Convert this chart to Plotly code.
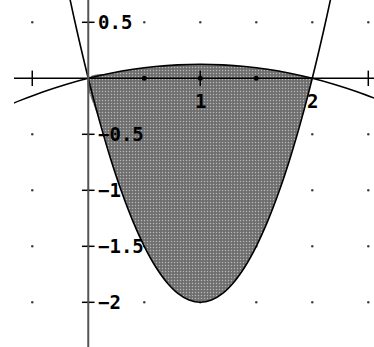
import plotly.graph_objects as go

# curve readings (x in steps of 0.1)
x_low = [-0.3, -0.2, -0.1, 0.0, 0.1, 0.2, 0.3, 0.4, 0.5, 0.6, 0.7, 0.8, 0.9, 1.0,
         1.1, 1.2, 1.3, 1.4, 1.5, 1.6, 1.7, 1.8, 1.9, 2.0, 2.1, 2.2, 2.3]
y_low = [1.38, 0.88, 0.42, 0.0, -0.38, -0.72, -1.02, -1.28, -1.5, -1.68, -1.82, -1.92, -1.98, -2.0,
         -1.98, -1.92, -1.82, -1.68, -1.5, -1.28, -1.02, -0.72, -0.38, 0.0, 0.42, 0.88, 1.38]

x_up = [-0.7, -0.6, -0.4, -0.2, 0.0, 0.2, 0.4, 0.6, 0.8, 1.0, 1.2, 1.4, 1.6, 1.8, 2.0, 2.2, 2.4, 2.6]
y_up = [-0.236, -0.195, -0.12, -0.055, 0.0, 0.045, 0.08, 0.105, 0.12, 0.125, 0.12, 0.105, 0.08, 0.045,
        0.0, -0.055, -0.12, -0.195]

grid_x = [-0.5, 0.0, 0.5, 1.0, 1.5, 2.0, 2.5]
grid_y = [0.5, -0.5, -1.0, -1.5, -2.0]
xtick_vals = [-0.5, 1.0, 2.5]
xdot_vals = [0.5, 1.0, 1.5]
ytick_vals = [0.5, -0.5, -1.0, -1.5, -2.0]
ytick_text = ["0.5", "\u22120.5", "\u22121", "\u22121.5", "\u22122"]
xlabel_vals = [1, 2]
xlabel_text = ["1", "2"]

x_range = [-0.663, 2.551]
y_range = [-2.399, 0.699]

# shaded region between the two curves, 0..2
x_in = [x for x in x_low if 0 <= x <= 2]
low_in = [y for x, y in zip(x_low, y_low) if 0 <= x <= 2]
up_pts = [(x, y) for x, y in zip(x_up, y_up) if 0 <= x <= 2]
fill_x = x_in + [p[0] for p in reversed(up_pts)]
fill_y = low_in + [p[1] for p in reversed(up_pts)]

fig = go.Figure()

gx = [x for y in grid_y for x in grid_x]
gy = [y for y in grid_y for x in grid_x]
fig.add_trace(go.Scatter(x=gx, y=gy, mode="markers",
                         marker=dict(size=2.5, color="#444"), hoverinfo="skip"))

fig.add_trace(go.Scatter(x=fill_x, y=fill_y, mode="lines", fill="toself",
                         line=dict(width=0, shape="spline"),
                         fillpattern=dict(shape=".", bgcolor="#6e6e6e", fgcolor="#ffffff",
                                          size=3, solidity=0.2),
                         hoverinfo="skip"))

fig.add_trace(go.Scatter(x=x_low, y=y_low, mode="lines",
                         line=dict(color="black", width=1.6, shape="spline")))
fig.add_trace(go.Scatter(x=x_up, y=y_up, mode="lines",
                         line=dict(color="black", width=1.6, shape="spline")))

# ticks
fig.add_trace(go.Scatter(x=xtick_vals, y=[0] * len(xtick_vals), mode="markers",
                         marker=dict(symbol="line-ns", size=11, line=dict(color="black", width=1.5))))
fig.add_trace(go.Scatter(x=xdot_vals, y=[0] * len(xdot_vals), mode="markers",
                         marker=dict(size=5, color="black")))
fig.add_trace(go.Scatter(x=[0] * len(ytick_vals), y=ytick_vals, mode="markers",
                         marker=dict(symbol="line-ew", size=9, line=dict(color="black", width=1.5))))

# axes
fig.add_shape(type="line", x0=x_range[0], x1=x_range[1], y0=0, y1=0,
              line=dict(color="black", width=1.6))
fig.add_shape(type="line", x0=0, x1=0, y0=y_range[0], y1=y_range[1],
              line=dict(color="#555", width=2))

lab_font = dict(family="DejaVu Sans Mono", size=19, color="black", weight="bold")
for v, t in zip(ytick_vals, ytick_text):
    fig.add_annotation(x=0, y=v, text=t, showarrow=False, xanchor="left", yanchor="middle",
                       xshift=8, font=lab_font)
for v, t in zip(xlabel_vals, xlabel_text):
    fig.add_annotation(x=v, y=0, text=t, showarrow=False, xanchor="center", yanchor="middle",
                       yshift=-23, font=lab_font)

fig.update_layout(width=374, height=347, margin=dict(l=14, r=0, t=0, b=0),
                  plot_bgcolor="white", paper_bgcolor="white", showlegend=False,
                  xaxis=dict(range=x_range, visible=False, fixedrange=True),
                  yaxis=dict(range=y_range, visible=False, fixedrange=True))

fig.write_html("out.html", config={"displayModeBar": False},
               post_script="document.body.style.margin='0';")
